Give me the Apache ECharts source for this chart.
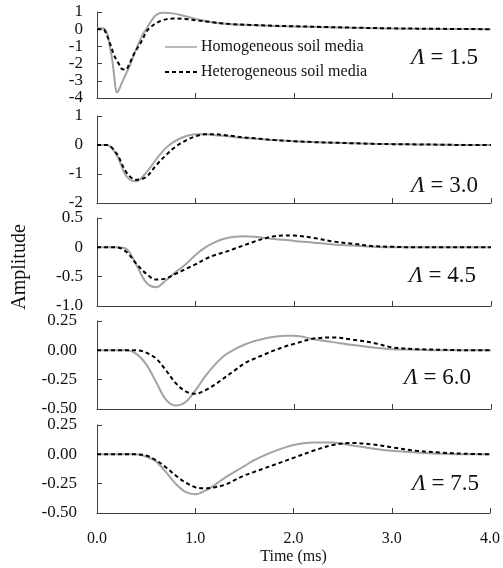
<!DOCTYPE html>
<html>
<head>
<meta charset="utf-8">
<script src="https://cdn.jsdelivr.net/npm/echarts@6/dist/echarts.min.js"></script>
<style>
  html, body { margin: 0; padding: 0; background: #fff; }
  #chart { width: 503px; height: 568px; }
</style>
</head>
<body>
<div id="chart"></div>
<script>
// Time axis (ms) for the Λ = 1.5 panel (finer sampling around the sharp dip)
const timeFine = [0, 0.06, 0.1, 0.13, 0.16, 0.18, 0.2, 0.22, 0.25, 0.29, 0.33, 0.37, 0.4, 0.44, 0.47, 0.5, 0.54, 0.6, 0.67, 0.77, 0.9, 1.0, 1.15, 1.33, 1.55, 1.8, 2.0, 2.3, 2.6, 3.0, 3.5, 4.0];
// Time axis (ms) for the other panels
const timeStd = [0, 0.1, 0.2, 0.3, 0.4, 0.5, 0.6, 0.7, 0.8, 0.9, 1.0, 1.1, 1.2, 1.3, 1.4, 1.5, 1.6, 1.7, 1.8, 1.9, 2.0, 2.2, 2.4, 2.6, 2.8, 3.0, 3.25, 3.5, 3.75, 4.0];

// Λ = 1.5
const homo15 = [0.05, 0.05, -0.2, -1.0, -2.0, -3.0, -3.68, -3.55, -3.15, -2.65, -2.18, -1.55, -1.11, -0.6, -0.24, 0.0, 0.38, 0.83, 0.96, 0.92, 0.75, 0.6, 0.42, 0.3, 0.24, 0.19, 0.16, 0.12, 0.08, 0.04, 0.01, 0.0];
const hetero15 = [0.0, 0.0, -0.35, -0.8, -1.3, -1.6, -1.8, -2.0, -2.3, -2.35, -2.0, -1.5, -1.2, -0.83, -0.5, -0.15, 0.1, 0.35, 0.53, 0.62, 0.6, 0.52, 0.42, 0.31, 0.25, 0.2, 0.17, 0.13, 0.09, 0.05, 0.02, 0.0];
// Λ = 3.0
const homo30 = [0, 0, -0.35, -1.08, -1.25, -0.95, -0.5, -0.1, 0.15, 0.3, 0.37, 0.37, 0.34, 0.31, 0.27, 0.24, 0.22, 0.19, 0.17, 0.15, 0.13, 0.1, 0.08, 0.06, 0.04, 0.03, 0.02, 0.01, 0.0, 0.0];
const hetero30 = [0, 0, -0.3, -0.95, -1.2, -1.1, -0.7, -0.35, -0.05, 0.15, 0.3, 0.37, 0.37, 0.34, 0.3, 0.26, 0.23, 0.2, 0.17, 0.15, 0.13, 0.1, 0.08, 0.06, 0.04, 0.03, 0.02, 0.01, 0.0, 0.0];
// Λ = 4.5
const homo45 = [0, 0, 0, -0.03, -0.3, -0.6, -0.68, -0.56, -0.42, -0.29, -0.13, 0.0, 0.09, 0.15, 0.18, 0.19, 0.18, 0.16, 0.14, 0.13, 0.11, 0.08, 0.05, 0.03, 0.01, 0.0, 0.0, 0.0, 0.0, 0.0];
const hetero45 = [0, 0, 0, -0.08, -0.28, -0.45, -0.55, -0.53, -0.45, -0.37, -0.29, -0.2, -0.13, -0.08, -0.02, 0.04, 0.1, 0.15, 0.19, 0.2, 0.2, 0.16, 0.1, 0.06, 0.02, 0.01, 0.0, 0.0, 0.0, 0.0];
// Λ = 6.0
const homo60 = [0, 0, 0, 0, -0.03, -0.12, -0.27, -0.42, -0.47, -0.44, -0.34, -0.22, -0.12, -0.04, 0.01, 0.05, 0.08, 0.1, 0.115, 0.125, 0.125, 0.095, 0.07, 0.045, 0.025, 0.01, 0.005, 0.0, 0.0, 0.0];
const hetero60 = [0, 0, 0, 0, 0, -0.02, -0.07, -0.17, -0.28, -0.35, -0.37, -0.34, -0.29, -0.23, -0.17, -0.11, -0.07, -0.035, 0.0, 0.03, 0.055, 0.1, 0.11, 0.09, 0.065, 0.025, 0.01, 0.005, 0.0, 0.0];
// Λ = 7.5
const homo75 = [0, 0, 0, 0, 0, -0.02, -0.06, -0.15, -0.25, -0.32, -0.34, -0.31, -0.26, -0.2, -0.15, -0.1, -0.05, -0.01, 0.025, 0.055, 0.08, 0.1, 0.1, 0.075, 0.05, 0.03, 0.015, 0.005, 0.0, 0.0];
const hetero75 = [0, 0, 0, 0, 0, -0.01, -0.05, -0.11, -0.18, -0.24, -0.28, -0.29, -0.28, -0.26, -0.22, -0.18, -0.15, -0.12, -0.09, -0.06, -0.03, 0.03, 0.08, 0.097, 0.085, 0.06, 0.03, 0.015, 0.005, 0.0];

const lambdaLabels = ['1.5', '3.0', '4.5', '6.0', '7.5'];
const seriesNames = ['Homogeneous soil media', 'Heterogeneous soil media'];
const xTicks = { min: 0, max: 4, interval: 1 };
const yRanges = [
  { min: -4, max: 1, interval: 1 },
  { min: -2, max: 1, interval: 1 },
  { min: -1, max: 0.5, interval: 0.5 },
  { min: -0.5, max: 0.25, interval: 0.25 },
  { min: -0.5, max: 0.25, interval: 0.25 }
];

const panelData = [
  [timeFine, homo15, hetero15],
  [timeStd, homo30, hetero30],
  [timeStd, homo45, hetero45],
  [timeStd, homo60, hetero60],
  [timeStd, homo75, hetero75]
];

const FONT = '"Liberation Serif", "Times New Roman", serif';
const AXIS_COLOR = '#404040';
const TEXT_COLOR = '#111';
const HOMO_STYLE = { color: '#a3a3a3', width: 2 };
const HETERO_STYLE = { color: '#000', width: 2, type: [4, 3] };

const gridTops = [12, 116, 218, 321, 425];
const gridHeights = [86, 87, 88, 88, 88];
const labelMargins = [14, 14, 14, 20, 20];
const lambdaPos = [[478, 58], [478, 186], [476, 276], [471, 378], [479, 484]];

function yFormatter(i) {
  return function (v) {
    if (i <= 1) return String(v);
    if (i === 2) return v === -1 ? '-1.0' : String(v);
    return v.toFixed(2);
  };
}

const grids = [], xAxes = [], yAxes = [], series = [];
for (let i = 0; i < 5; i++) {
  grids.push({ left: 97, right: 12, top: gridTops[i], height: gridHeights[i] });
  const last = i === 4;
  xAxes.push({
    type: 'value', gridIndex: i,
    min: xTicks.min, max: xTicks.max, interval: xTicks.interval,
    axisLine: { show: true, onZero: false, lineStyle: { color: AXIS_COLOR, width: 1 } },
    axisTick: { show: true, inside: true, length: 5, lineStyle: { color: AXIS_COLOR } },
    splitLine: { show: false },
    axisLabel: {
      show: last, margin: 18, fontFamily: FONT, fontSize: 16, color: TEXT_COLOR,
      formatter: v => v.toFixed(1)
    },
    name: last ? 'Time (ms)' : '',
    nameLocation: 'middle', nameGap: 44,
    nameTextStyle: { fontFamily: FONT, fontSize: 16, color: TEXT_COLOR, verticalAlign: 'middle' }
  });
  yAxes.push({
    type: 'value', gridIndex: i,
    min: yRanges[i].min, max: yRanges[i].max, interval: yRanges[i].interval,
    axisLine: { show: true, onZero: false, lineStyle: { color: AXIS_COLOR, width: 1 } },
    axisTick: { show: true, inside: true, length: 5, lineStyle: { color: AXIS_COLOR } },
    splitLine: { show: false },
    axisLabel: {
      margin: labelMargins[i], fontFamily: FONT, fontSize: 17, color: TEXT_COLOR,
      formatter: yFormatter(i)
    }
  });
  const [t, homo, hetero] = panelData[i];
  series.push({
    name: seriesNames[0], type: 'line', xAxisIndex: i, yAxisIndex: i,
    data: t.map((x, k) => [x, homo[k]]),
    smooth: 0.35, symbol: 'none', z: 2,
    lineStyle: HOMO_STYLE
  });
  series.push({
    name: seriesNames[1], type: 'line', xAxisIndex: i, yAxisIndex: i,
    data: t.map((x, k) => [x, hetero[k]]),
    smooth: 0.35, symbol: 'none', z: 3,
    lineStyle: HETERO_STYLE
  });
}

// Panel annotations: Λ values
const graphics = lambdaLabels.map((lab, i) => ({
  type: 'text',
  x: lambdaPos[i][0], y: lambdaPos[i][1],
  style: {
    text: '{l|Λ} = ' + lab,
    align: 'right', verticalAlign: 'middle',
    fontFamily: FONT, fontSize: 23, fill: TEXT_COLOR,
    rich: { l: { fontFamily: FONT, fontSize: 23, fontStyle: 'italic', color: TEXT_COLOR } }
  }
}));

// Shared y-axis title
graphics.push({
  type: 'text', x: 20, y: 267, rotation: Math.PI / 2,
  style: {
    text: 'Amplitude', align: 'center', verticalAlign: 'middle',
    fontFamily: FONT, fontSize: 20, fill: TEXT_COLOR
  }
});

// Key: line samples with series names
const keyRows = [
  { y: 47, name: seriesNames[0], style: { stroke: '#a3a3a3', lineWidth: 1.5 } },
  { y: 72, name: seriesNames[1], style: { stroke: '#000', lineWidth: 2, lineDash: [4, 3] } }
];
keyRows.forEach(r => {
  graphics.push({
    type: 'line', shape: { x1: 165, y1: r.y, x2: 197, y2: r.y }, style: r.style
  });
  graphics.push({
    type: 'text', x: 201, y: r.y,
    style: { text: r.name, align: 'left', verticalAlign: 'middle', fontFamily: FONT, fontSize: 16, fill: TEXT_COLOR }
  });
});

const chart = echarts.init(document.getElementById('chart'), null, { renderer: 'canvas' });
chart.setOption({
  animation: false,
  backgroundColor: '#fff',
  grid: grids,
  xAxis: xAxes,
  yAxis: yAxes,
  graphic: graphics,
  series: series
});
</script>
</body>
</html>
